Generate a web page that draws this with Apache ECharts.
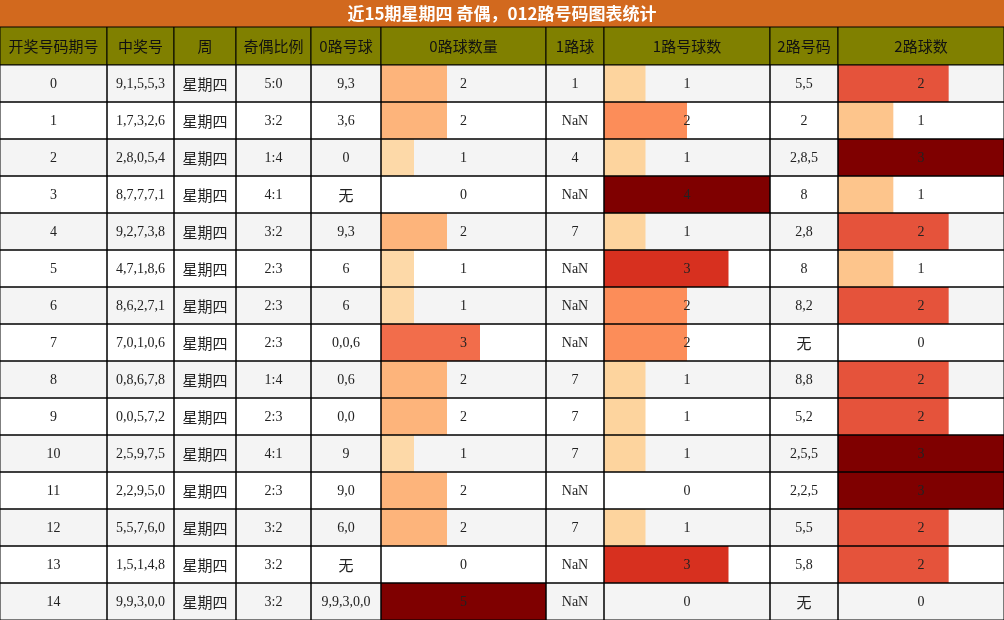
<!DOCTYPE html>
<html>
<head>
<meta charset="utf-8">
<script src="https://cdn.jsdelivr.net/npm/echarts@6/dist/echarts.min.js"></script>
<style>html,body{margin:0;padding:0;background:#fff}#main{width:1004px;height:620px}</style>
</head>
<body>
<div id="main"></div>
<script>
const titulo = '近15期星期四 奇偶，012路号码图表统计';
const cabecalho = ['开奖号码期号', '中奖号', '周', '奇偶比例', '0路号球', '0路球数量', '1路球', '1路号球数', '2路号码', '2路球数'];
const periodos = ['26243','26236','26229','26222','26215','26208','26201','26194','26187','26180','26173','26166','26159','26152','26145'];
const numeros = ['9,1,5,5,3','1,7,3,2,6','2,8,0,5,4','8,7,7,7,1','9,2,7,3,8','4,7,1,8,6','8,6,2,7,1','7,0,1,0,6','0,8,6,7,8','0,0,5,7,2','2,5,9,7,5','2,2,9,5,0','5,5,7,6,0','1,5,1,4,8','9,9,3,0,0'];
const semana = '星期四';
const paridade = ['5:0','3:2','1:4','4:1','3:2','2:3','2:3','2:3','1:4','2:3','4:1','2:3','3:2','3:2','3:2'];
const bolas0 = ['9,3','3,6','0','无','9,3','6','6','0,0,6','0,6','0,0','9','9,0','6,0','无','9,9,3,0,0'];
const qtd0 = [2,2,1,0,2,1,1,3,2,2,1,2,2,0,5];
const bolas1 = ['1','1,7','4','7,7,7,1','7','4,7,1','7,1','7,1','7','7','7','无','7','1,1,4','无'];
const qtd1 = [1,2,1,4,1,3,2,2,1,1,1,0,1,3,0];
const bolas2 = ['5,5','2','2,8,5','8','2,8','8','8,2','无','8,8','5,2','2,5,5','2,2,5','5,5','5,8','无'];
const qtd2 = [2,1,3,1,2,1,2,0,2,2,3,3,2,2,0];

// bordas das colunas
const colX = [0, 107, 174, 236, 311, 381, 546, 604, 770, 838, 1004];
const TOPO = 65;
const cores0 = {1:'#fdd9a8', 2:'#fdb47b', 3:'#f26d4b', 5:'#7f0000'};
const cores1 = {1:'#fdd49e', 2:'#fc8d59', 3:'#d7301f', 4:'#7f0000'};
const cores2 = {1:'#fdc58c', 2:'#e5533b', 3:'#7f0000'};

const fonteNum = '"Liberation Serif", "DejaVu Serif", serif';
const fonteCJK = '"Noto Sans CJK SC", sans-serif';

const linhas = periodos.map((p, i) => [i, p, numeros[i], semana, paridade[i], bolas0[i], qtd0[i], bolas1[i], qtd1[i], bolas2[i], qtd2[i]]);

const myChart = echarts.init(document.getElementById('main'));

function celula(api, ci) {
    const y0 = api.coord([0, api.value(0)]);
    const h = api.size([0, 1])[1];
    return { x: colX[ci], y: y0[1] - h / 2, w: colX[ci + 1] - colX[ci], h: h };
}

function fundo(params, api) {
    const row = api.value(0);
    const filhos = [];
    for (let c = 0; c < 10; c++) {
        const r = celula(api, c);
        filhos.push({ type: 'rect', shape: { x: r.x, y: r.y, width: r.w, height: r.h },
            style: { fill: row % 2 === 0 ? '#f4f4f4' : '#ffffff' } });
    }
    return { type: 'group', children: filhos };
}

function textos(params, api) {
    const filhos = [];
    for (let c = 0; c < 10; c++) {
        const r = celula(api, c);
        const txt = String(api.value(c + 1));
        const cjk = /[\u4e00-\u9fff]/.test(txt);
        filhos.push({ type: 'rect', shape: { x: r.x, y: r.y, width: r.w, height: r.h },
            style: { fill: 'none', stroke: '#000', lineWidth: 1 } });
        filhos.push({ type: 'text', x: r.x + r.w / 2, y: r.y + r.h / 2 + 1,
            style: { text: txt, fill: '#222', align: 'center', verticalAlign: 'middle',
                font: cjk ? '15px ' + fonteCJK : '14px ' + fonteNum } });
    }
    return { type: 'group', children: filhos };
}

const gridBase = { left: 0, right: 0, top: TOPO, bottom: 0 };
const grids = [gridBase];
const xAxes = [{ gridIndex: 0, type: 'value', min: 0, max: 1004, show: false }];
const yAxes = [{ gridIndex: 0, type: 'category', data: periodos, inverse: true, show: false }];
const barras = [[qtd0, cores0, 5, 5], [qtd1, cores1, 4, 7], [qtd2, cores2, 3, 9]];
const seriesBarras = barras.map((b, k) => {
    const gi = k + 1;
    grids.push({ left: colX[b[3]], width: colX[b[3] + 1] - colX[b[3]], top: TOPO, bottom: 0 });
    xAxes.push({ gridIndex: gi, type: 'value', min: 0, max: b[2], show: false });
    yAxes.push({ gridIndex: gi, type: 'category', data: periodos, inverse: true, show: false });
    return {
        type: 'bar', xAxisIndex: gi, yAxisIndex: gi, barWidth: '100%', z: 2, silent: true,
        data: b[0].map(v => ({ value: v, itemStyle: { color: b[1][v] || 'transparent' } }))
    };
});

const graficos = [
    { type: 'rect', shape: { x: 0, y: 0, width: 1004, height: 27 }, style: { fill: '#d2691e' } },
    { type: 'text', x: 502, y: 14, style: { text: titulo, fill: '#fff', align: 'center', verticalAlign: 'middle',
        font: 'bold 17px "Noto Sans CJK SC", sans-serif' } }
];
cabecalho.forEach((t, c) => {
    graficos.push({ type: 'rect', shape: { x: colX[c], y: 27, width: colX[c + 1] - colX[c], height: TOPO - 27 },
        style: { fill: '#808000', stroke: '#000', lineWidth: 1 } });
    graficos.push({ type: 'text', x: (colX[c] + colX[c + 1]) / 2, y: (27 + TOPO) / 2,
        style: { text: t, fill: '#111', align: 'center', verticalAlign: 'middle', font: '15px ' + fonteCJK } });
});

myChart.setOption({
    animation: false,
    grid: grids,
    xAxis: xAxes,
    yAxis: yAxes,
    graphic: graficos,
    series: [
        { type: 'custom', renderItem: fundo, data: linhas, z: 1, silent: true },
        ...seriesBarras,
        { type: 'custom', renderItem: textos, data: linhas, z: 3, silent: true }
    ]
});
</script>
</body>
</html>
